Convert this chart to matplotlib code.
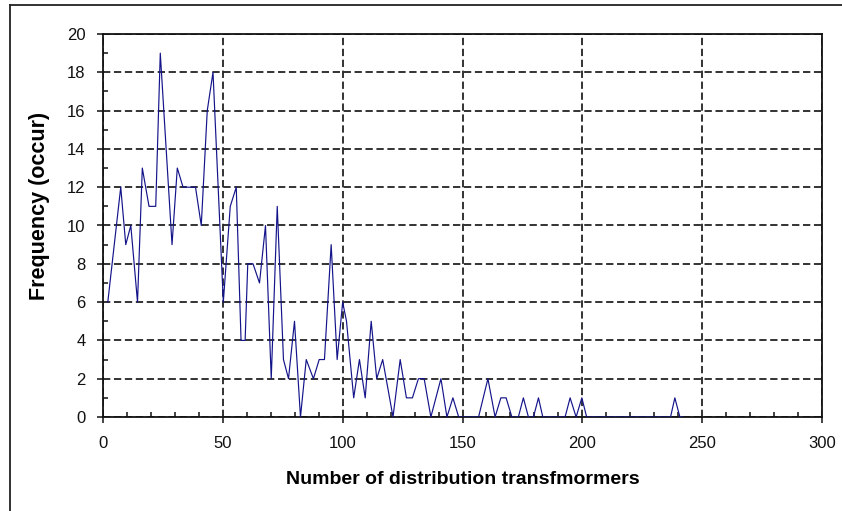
import matplotlib
matplotlib.use("Agg")
import matplotlib.pyplot as plt
from matplotlib.lines import Line2D
from matplotlib.ticker import MultipleLocator

plt.rcParams['font.family'] = ['Liberation Sans', 'DejaVu Sans']

# Data
transformers = [2, 7.4, 9.5, 11.6, 14.4, 16.4, 19.2, 22, 23.9, 28.8, 31, 33.4, 38.6, 41,
                43.5, 45.9, 50.2, 53.1, 55.6, 57.6, 59.3, 60.4, 62.6, 65.3, 67.8, 70.2,
                72.7, 75.3, 77.4, 79.9, 82.4, 84.8, 87.8, 90.2, 92.4, 95.2, 97.7, 100,
                101.6, 104.6, 107, 109.4, 111.9, 114.2, 116.7, 121, 124, 126.6, 129.1,
                131.6, 134, 136.8, 141, 143.5, 146, 148.4, 156.7, 160.6, 163.6, 166,
                168.2, 170.6, 173.3, 175.4, 177.5, 179.6, 181.7, 183.5, 192.8, 194.9,
                197.4, 199.8, 201.8, 236.8, 238.6, 240.7, 242]
frequency = [6, 12, 9, 10, 6, 13, 11, 11, 19, 9, 13, 12, 12, 10,
             16, 18, 6, 11, 12, 4, 4, 8, 8, 7, 10, 2,
             11, 3, 2, 5, 0, 3, 2, 3, 3, 9, 3, 6,
             5, 1, 3, 1, 5, 2, 3, 0, 3, 1, 1,
             2, 2, 0, 2, 0, 1, 0, 0, 2, 0, 1,
             1, 0, 0, 1, 0, 0, 1, 0, 0, 1,
             0, 1, 0, 0, 1, 0, 0]

x_ticks = [0, 50, 100, 150, 200, 250, 300]
y_ticks = [0, 2, 4, 6, 8, 10, 12, 14, 16, 18, 20]

W, H = 842, 511
fig = plt.figure(figsize=(W / 100, H / 100), dpi=100)
fig.patch.set_facecolor('white')

# outer chart border (top and left visible)
fig.add_artist(Line2D([10 / W, 1.0], [1 - 5 / H, 1 - 5 / H], color='#222222', lw=1.3,
                      transform=fig.transFigure))
fig.add_artist(Line2D([10 / W, 10 / W], [1 - 5 / H, 0.0], color='#222222', lw=1.3,
                      transform=fig.transFigure))

left, right, top, bottom = 103, 822, 34, 417
ax = fig.add_axes([left / W, 1 - bottom / H, (right - left) / W, (bottom - top) / H])

ax.plot(transformers, frequency, color='#14148a', lw=0.85, zorder=3)

ax.set_xlim(0, 300)
ax.set_ylim(0, 20)
ax.set_xticks(x_ticks)
ax.set_yticks(y_ticks)
ax.xaxis.set_minor_locator(MultipleLocator(10))
ax.yaxis.set_minor_locator(MultipleLocator(1))
ax.tick_params(which='major', direction='out', length=4.5, width=1.1, labelsize=12,
               colors='#111111')
ax.tick_params(axis='x', which='major', pad=9)
ax.tick_params(axis='y', which='major', pad=8)
ax.tick_params(which='minor', direction='in', length=3.8, width=1.1, colors='#111111')

ax.grid(True, which='major', color='#1a1a1a', lw=1.25, ls=(0, (4.2, 2.1)))
ax.set_axisbelow(True)
for s in ax.spines.values():
    s.set_color('#111111')
    s.set_linewidth(1.3)

ax.set_xlabel('Number of distribution transfmormers', fontsize=14, fontweight='bold')
ax.xaxis.set_label_coords(0.5, -(471 - bottom) / (bottom - top))
ax.set_ylabel('Frequency (occur)', fontsize=15.5, fontweight='bold')
ax.yaxis.set_label_coords((50 - left) / (right - left), (bottom - 206) / (bottom - top))

fig.savefig('out.png', dpi=100)
